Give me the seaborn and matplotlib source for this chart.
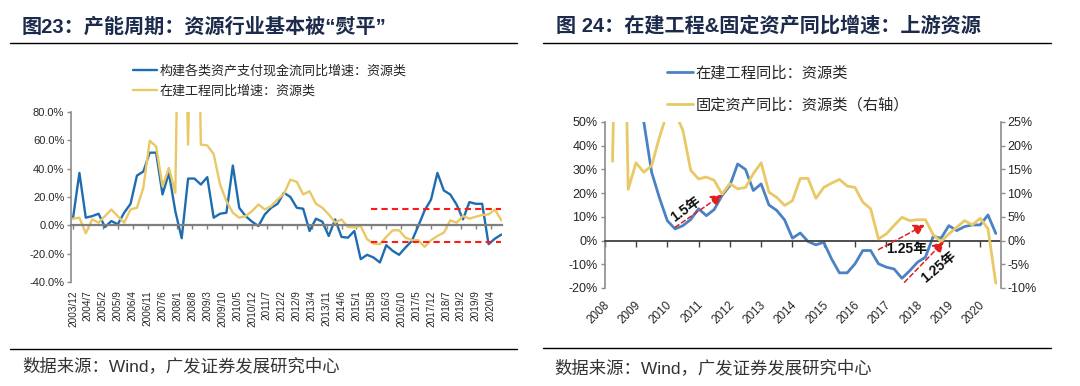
import numpy as np
import pandas as pd
import matplotlib
matplotlib.use('Agg')
import matplotlib.pyplot as plt
import matplotlib.transforms as mtransforms
from matplotlib.lines import Line2D
import seaborn as sns

sns.set_theme(style='white')
plt.rcParams['font.family'] = ['Liberation Sans', 'Noto Sans CJK SC']
plt.rcParams['axes.unicode_minus'] = False

# ---------------- data: left panel (quarterly, from 2003/12) ----------------
left_title = '图23：产能周期：资源行业基本被“熨平”'
left_series_names = ['构建各类资产支付现金流同比增速：资源类', '在建工程同比增速：资源类']
left_xtick_labels = ['2003/12', '2004/7', '2005/2', '2005/9', '2006/4', '2006/11', '2007/6',
                     '2008/1', '2008/8', '2009/3', '2009/10', '2010/5', '2010/12', '2011/7',
                     '2012/2', '2012/9', '2013/4', '2013/11', '2014/6', '2015/1', '2015/8',
                     '2016/3', '2016/10', '2017/5', '2017/12', '2018/7', '2019/2', '2019/9',
                     '2020/4']
left_blue = [5, 37, 5.4, 6.5, 8.2, -1.2, 3, 0.7, 8.9, 15.2, 35.1, 38, 51.3, 51.3, 21.8, 37,
             10, -9.1, 33, 33, 28.8, 34, 5.4, 8.2, 8.9, 42.2, 12.4, 6.5, 2.6, -0.5, 7.7, 12.4,
             15.2, 23, 20, 12.4, 11.7, -4, 4.7, 2.6, -7.5, 4.2, -8.2, -8.7, -4, -23.9, -20.8,
             -22.7, -26.2, -14, -18, -20.8, -15.7, -11, -0.5, 10.5, 18.2, 37, 24.6, 21.8, 14.7,
             4.2, 16.4, 15.2, 15.2, -13.3, -9.4, -6.5]
left_yellow = [4.7, 5.4, -5.6, 4.2, 1.9, 6.5, 11.2, 6.5, 1.9, 11.2, 12.4, 26.5, 59.7, 55.7,
               27.6, 40.5, 23, 300, 57, 300, 57, 56.4, 50.3, 28.8, 17.1, 8.9, 5.4, 6.5, 10,
               14.7, 11.2, 13.6, 18.3, 22.2, 32.3, 30.7, 21.8, 24.1, 15.2, 12.4, 7.7, 1.9, 4.2,
               -1.2, -1.4, -0.5, -9.8, -12.9, -13.3, -8.2, -3.5, -3.5, -8.7, -10.5, -10.5,
               -15.2, -10.5, -7.5, -5.2, 3.5, 1.9, 6.6, 4.7, 6.1, 7.3, 7.7, 11.2, 3.5]
left_band_levels = [11.7, -11.7]
left_band_from = '2015/8'

# ---------------- data: right panel (quarterly) ----------------
right_title = '图 24：在建工程&固定资产同比增速：上游资源'
right_series_names = ['在建工程同比：资源类', '固定资产同比：资源类（右轴）']
right_years = list(range(2008, 2021))
right_blue_start = 2009.0
right_blue = [70, 50, 28.8, 18, 8.4, 4.9, 6.3, 8.9, 13.4, 10.5, 13.1, 19, 23.2, 32.3, 30, 21.1,
              23.9, 15, 12.7, 8.7, 1, 3.2, -0.4, -1.8, -0.7, -7.7, -13.6, -13.6, -9.8, -4.2,
              -4.2, -9.8, -11.2, -12, -15.9, -12.7, -9.1, -7, 1.8, 1, 6.3, 4.2, 5.9, 6.6, 6.6,
              10.8, 3]
right_yellow_start = 2008.25
right_yellow = [16.7, 100, 10.8, 16.4, 14.4, 15.8, 21.8, 27, 27, 23.2, 14.8, 13, 13.4, 12.7,
                9.8, 12, 10.9, 11.2, 14.1, 16.4, 10.2, 9.1, 7.4, 8.4, 13.1, 13.1, 8.9, 11.2,
                12.1, 12.9, 11.5, 11.2, 8.1, 6.7, 0.35, 1.4, 3.2, 4.9, 4.2, 4.4, 4.4, 1.2,
                -0.2, 1.4, 2.8, 4.2, 3.3, 4.7, 2.5, -9]
# annotation arrows (start, end in left-axis units) and labels
right_arrows = [((2010.25, 5.6), (2011.75, 19.3)),
                ((2016.75, -3.8), (2018.23, 6.6)),
                ((2017.58, -17.6), (2018.84, -0.4))]
right_arrow_texts = [('1.5年', 2010.6, 13.4, 36), ('1.25年', 2017.65, -3.6, 0),
                     ('1.25年', 2018.66, -11.2, 40)]
source_text = '数据来源：Wind，广发证券发展研究中心'

BLUE_L = '#1F6DAF'
BLUE_R = '#4A82C4'
YELLOW = '#E9C866'
GRAY = '#8C8C8C'

W, H = 1080, 386
fig = plt.figure(figsize=(W / 100, H / 100), dpi=100)
fig.patch.set_facecolor('white')

def fx(px):
    return px / W

def fy(py):
    return 1 - py / H

# ================= left panel =================
axL = fig.add_axes([fx(71.3), fy(282), fx(502) - fx(71.3), fy(112) - fy(282)])
n = len(left_blue)
dfL = pd.DataFrame({'m': np.arange(n) * 3, 'blue': left_blue, 'yellow': left_yellow})
sns.lineplot(data=dfL, x='m', y='blue', ax=axL, color=BLUE_L, lw=1.7, label=left_series_names[0])
sns.lineplot(data=dfL, x='m', y='yellow', ax=axL, color=YELLOW, lw=1.7, label=left_series_names[1])
axL.set_xlim(-0.8, 201.3)
axL.set_ylim(-40, 80)
axL.set_xlabel('')
axL.set_ylabel('')
tick_pos = np.arange(len(left_xtick_labels)) * 7
band_start = left_xtick_labels.index(left_band_from) * 7
axL.hlines(left_band_levels, band_start, 201, colors='#FF1A1A', linestyles=(0, (3, 2)), lw=1.5)

for s in ['top', 'right']:
    axL.spines[s].set_visible(False)
axL.spines['bottom'].set_position(('data', 0))
axL.spines['bottom'].set_color('#7F7F7F')
axL.spines['bottom'].set_linewidth(1.6)
axL.spines['left'].set_color(GRAY)
axL.spines['left'].set_linewidth(1.2)
yt = list(range(-40, 81, 20))
axL.set_yticks(yt)
axL.set_yticklabels([f'{v:.1f}%' for v in yt], fontsize=8, color='#262626')
axL.tick_params(axis='y', left=True, length=3, width=1, color=GRAY, pad=2)
axL.set_xticks(tick_pos)
axL.tick_params(axis='x', bottom=True, labelbottom=False, length=3, width=1, color='#7F7F7F',
                direction='out')
secL = axL.secondary_xaxis('bottom')
secL.set_xticks(tick_pos)
secL.set_xticklabels(left_xtick_labels, rotation=90, fontsize=7.2, color='#262626')
secL.tick_params(length=0, pad=6)
secL.spines['bottom'].set_visible(False)
axL.legend(loc='upper left', bbox_to_anchor=(fx(133), fy(64.5)), bbox_transform=fig.transFigure,
           frameon=False, fontsize=9.4, handlelength=1.85, handletextpad=0.15, borderpad=0,
           borderaxespad=0, labelspacing=0.6)

# ================= right panel =================
axR = fig.add_axes([fx(604.7), fy(288), fx(1000.5) - fx(604.7), fy(122) - fy(288)])
ax2 = axR.twinx()
dfB = pd.DataFrame({'year': right_blue_start + np.arange(len(right_blue)) * 0.25, 'v': right_blue})
dfY = pd.DataFrame({'year': right_yellow_start + np.arange(len(right_yellow)) * 0.25, 'v': right_yellow})
sns.lineplot(data=dfB, x='year', y='v', ax=axR, color=BLUE_R, lw=2.0, label=right_series_names[0])
sns.lineplot(data=dfY, x='year', y='v', ax=ax2, color=YELLOW, lw=2.0, label=right_series_names[1])
axR.set_xlim(2008, 2020.65)
axR.set_ylim(-20, 50)
ax2.set_ylim(-10, 25)
for a in (axR, ax2):
    a.set_xlabel('')
    a.set_ylabel('')
    if a.get_legend() is not None:
        a.get_legend().remove()

for s in ['top', 'right']:
    axR.spines[s].set_visible(False)
for s in ['top', 'left', 'bottom']:
    ax2.spines[s].set_visible(False)
axR.spines['bottom'].set_position(('data', 0))
axR.spines['bottom'].set_color('#404040')
axR.spines['bottom'].set_linewidth(1.3)
axR.spines['left'].set_color(GRAY)
ax2.spines['right'].set_color(GRAY)
axR.spines['left'].set_linewidth(1.2)
ax2.spines['right'].set_linewidth(1.2)

ytR = list(range(-20, 51, 10))
axR.set_yticks(ytR)
axR.set_yticklabels([f'{v}%' for v in ytR], fontsize=9, color='#262626')
axR.tick_params(axis='y', left=True, length=3, width=1, color=GRAY, pad=2)
yt2 = list(range(-10, 26, 5))
ax2.set_yticks(yt2)
ax2.set_yticklabels([f'{v}%' for v in yt2], fontsize=9, color='#262626')
ax2.tick_params(axis='y', right=True, length=3, width=1, color=GRAY, pad=2)
axR.set_xticks(right_years)
axR.tick_params(axis='x', bottom=True, labelbottom=False, length=4, width=1, color='#404040',
                direction='out')
secR = axR.secondary_xaxis('bottom')
secR.set_xticks(right_years)
secR.set_xticklabels([str(y) for y in right_years], rotation=45, ha='right', va='center',
                     rotation_mode='anchor', fontsize=8.5, color='#262626')
secR.tick_params(length=0, pad=11)
secR.spines['bottom'].set_visible(False)
off = mtransforms.ScaledTranslation(3 / 100, 0, fig.dpi_scale_trans)
for lab in secR.get_xticklabels():
    lab.set_transform(lab.get_transform() + off)

for (x0, y0), (x1, y1) in right_arrows:
    ax2.annotate('', xy=(x1, y1), xytext=(x0, y0), xycoords=axR.transData,
                 textcoords=axR.transData,
                 arrowprops=dict(arrowstyle='-|>,head_length=0.55,head_width=0.3',
                                 color='#E0201E', lw=1.1, linestyle=(0, (3, 2)),
                                 shrinkA=0, shrinkB=0, mutation_scale=12))
for txt, x, y, rot in right_arrow_texts:
    ax2.text(x, y, txt, transform=axR.transData, rotation=rot, ha='center', va='center',
             fontsize=10, fontweight='bold', color='#111111')

hB = Line2D([], [], color=BLUE_R, lw=2.0)
hY = Line2D([], [], color=YELLOW, lw=2.0)
fig.legend([hB, hY], right_series_names, loc='upper left', bbox_to_anchor=(fx(667), fy(66)),
           bbox_transform=fig.transFigure, frameon=False, fontsize=11, handlelength=1.7,
           handletextpad=0.15, borderpad=0, borderaxespad=0, labelspacing=1.15)

# ================= titles, rules, sources =================
TITLE_C = '#1C2B4B'
fig.text(fx(22), fy(27), left_title, fontsize=14.5, fontweight='bold', color=TITLE_C,
         ha='left', va='center')
fig.text(fx(556), fy(26), right_title, fontsize=14.5, fontweight='bold', color=TITLE_C,
         ha='left', va='center')
for (x0, x1, y) in [(10, 517, 43), (10, 517, 349), (543, 1051, 42.5), (543, 1051, 348)]:
    fig.add_artist(Line2D([fx(x0), fx(x1)], [fy(y), fy(y)], color='black', lw=1.0,
                          transform=fig.transFigure))
fig.text(fx(22), fy(366), source_text, fontsize=12.5, color='#333333', ha='left', va='center')
fig.text(fx(554), fy(368), source_text, fontsize=12.5, color='#333333', ha='left', va='center')

fig.savefig('out.png', dpi=100, facecolor='white')
